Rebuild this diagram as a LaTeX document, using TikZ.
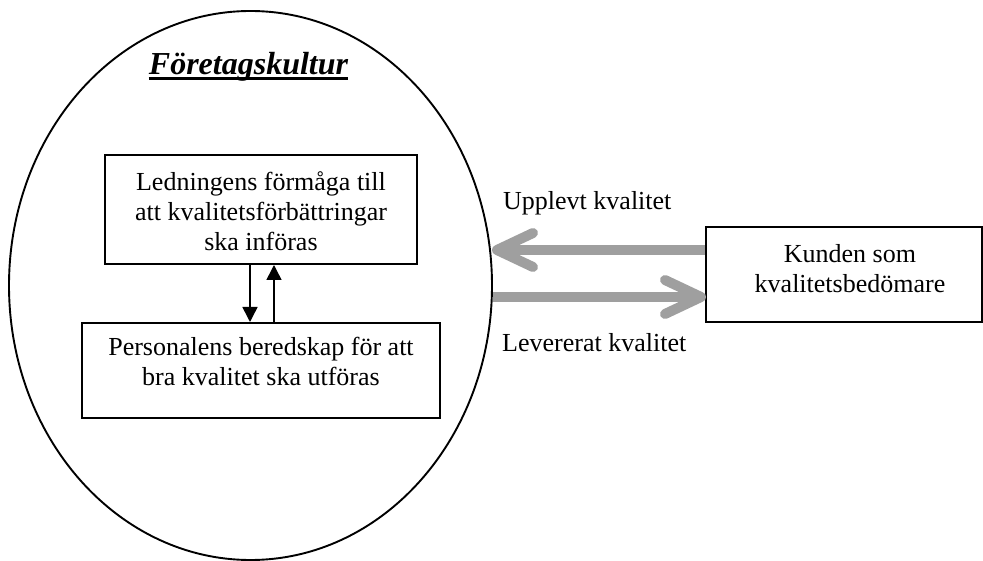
\documentclass[tikz,border=0pt]{standalone}
\usepackage{fontspec}
\setmainfont{Liberation Serif}
\usetikzlibrary{arrows.meta,calc,shapes.geometric}
\begin{document}
\begin{tikzpicture}[x=1pt,y=-1pt,
  box/.style={draw, line width=2pt, inner sep=0pt},
  txt/.style={align=center, font=\fontsize{26}{30}\selectfont, inner sep=0pt},
  lbl/.style={font=\fontsize{26}{30}\selectfont, inner sep=0pt, anchor=base west},
  gbar/.style={draw=gray!75, line width=10pt},
  ghead/.style={draw=gray!75, line width=10pt, line cap=round, line join=round},
  blk/.style={line width=1.5pt, -{Triangle[length=15pt,width=15pt]}}]
\useasboundingbox (0,0) rectangle (983,561);
% ellipse
\node[draw, ellipse, line width=1.9pt, minimum width=483pt, minimum height=549pt, inner sep=0pt] (kultur) at (250.5,285.5) {};
% title
\node[anchor=base, inner sep=0pt, font=\fontsize{32}{38}\selectfont\bfseries\itshape] (title) at (248.5,75) {Företagskultur};
\draw[line width=3pt] ([yshift=-4pt]title.base west) -- ([yshift=-4pt]title.base east);
% boxes
\node[box, minimum width=312pt, minimum height=109pt] (led) at (261,209.5) {};
\node[txt] (ledtxt) at (261,211) {Ledningens förmåga till\\att kvalitetsförbättringar\\ska införas};
\node[box, minimum width=358pt, minimum height=95pt] (pers) at (261,370.5) {};
\node[txt] (perstxt) at (261,361) {Personalens beredskap för att\\bra kvalitet ska utföras};
\node[box, minimum width=276pt, minimum height=95pt] (kunde) at (844,274.5) {};
\node[txt] (kundetxt) at (850,269) {Kunden som\\kvalitetsbedömare};
% black arrows
\draw[blk] ([xshift=-11pt]led.south) -- ([xshift=-11pt]pers.north);
\draw[blk] ([xshift=13pt]pers.north) -- ([xshift=13pt]led.south);
% gray arrows
\coordinate (v1) at (497,250);
\draw[gbar] (kunde.west |- v1) -- (v1);
\draw[ghead] ($(v1)+(36,-17)$) -- (v1) -- ($(v1)+(36,17)$);
\coordinate (v2) at (701,297);
\draw[gbar] (kultur.east |- v2) -- (v2);
\draw[ghead] ($(v2)+(-36,-17)$) -- (v2) -- ($(v2)+(-36,17)$);
% labels
\node[lbl] (upp) at (503,210) {Upplevt kvalitet};
\node[lbl] (lev) at (502,352) {Levererat kvalitet};
\end{tikzpicture}
\end{document}
